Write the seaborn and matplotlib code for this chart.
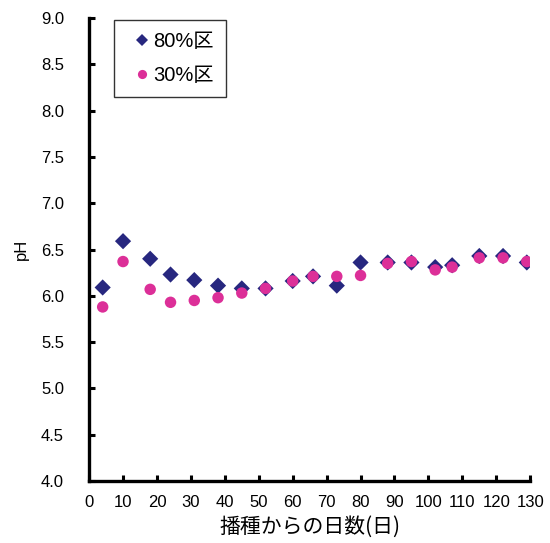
"""pH over days after sowing, two shading treatments."""

import matplotlib
matplotlib.use("Agg")
import matplotlib.pyplot as plt
import pandas as pd
import seaborn as sns

# Data
days = [4, 10, 18, 24, 31, 38, 45, 52, 60, 66, 73, 80, 88, 95, 102, 107, 115, 122, 129]
ph_80 = [6.09, 6.59, 6.40, 6.23, 6.17, 6.11, 6.08, 6.08, 6.16, 6.21, 6.11, 6.36,
         6.36, 6.36, 6.31, 6.33, 6.43, 6.43, 6.36]
ph_30 = [5.88, 6.37, 6.07, 5.93, 5.95, 5.98, 6.03, 6.08, 6.16, 6.21, 6.21, 6.22,
         6.35, 6.37, 6.28, 6.31, 6.41, 6.41, 6.37]
groups = ["80%区", "30%区"]
x_ticks = list(range(0, 131, 10))
y_ticks = [4.0 + 0.5 * i for i in range(11)]

df = pd.concat([
    pd.DataFrame({"day": days, "pH": ph_80, "group": groups[0]}),
    pd.DataFrame({"day": days, "pH": ph_30, "group": groups[1]}),
])

sns.set_style("ticks")
plt.rcParams["font.family"] = ["Liberation Sans", "Noto Sans CJK JP", "DejaVu Sans"]
plt.rcParams.update({
    "text.color": "black",
    "axes.labelcolor": "black",
    "xtick.color": "black",
    "ytick.color": "black",
})

fig = plt.figure(figsize=(5.5, 5.43), dpi=100)
ax = fig.add_axes([0.162, 0.114, 0.802, 0.853])

sns.scatterplot(
    data=df, x="day", y="pH", hue="group", style="group",
    hue_order=groups, style_order=groups,
    palette=["#27277f", "#dc2f98"],
    markers={"80%区": "D", "30%区": "o"},
    s=68, linewidth=0, zorder=3, ax=ax,
)

ax.set_xlim(0, 130)
ax.set_ylim(4.0, 9.0)
ax.set_xticks(x_ticks)
ax.set_yticks(y_ticks)
ax.set_yticklabels([f"{v:.1f}" for v in y_ticks])
ax.tick_params(axis="both", direction="in", length=4, width=2.2, labelsize=12)
ax.tick_params(axis="x", pad=10)
ax.tick_params(axis="y", pad=18)
for side in ["top", "right"]:
    ax.spines[side].set_visible(False)
for side in ["left", "bottom"]:
    ax.spines[side].set_linewidth(2.4)
    ax.spines[side].set_color("black")

ax.set_xlabel("播種からの日数(日)", fontsize=15,
              family=["Noto Sans CJK JP", "DejaVu Sans"], labelpad=4)
ax.set_ylabel("pH", fontsize=12, labelpad=9)

leg = ax.legend(
    loc="upper left", bbox_to_anchor=(0.052, 1.0), borderaxespad=0.1,
    frameon=True, fancybox=False, edgecolor="black",
    handlelength=1.6, handletextpad=-0.25, borderpad=0.6, labelspacing=0.75,
    markerscale=0.8,
    prop={"family": ["Liberation Sans", "Noto Sans CJK JP"], "size": 14.5},
)
leg.get_frame().set_linewidth(1.0)

fig.savefig("out.png", dpi=100)
